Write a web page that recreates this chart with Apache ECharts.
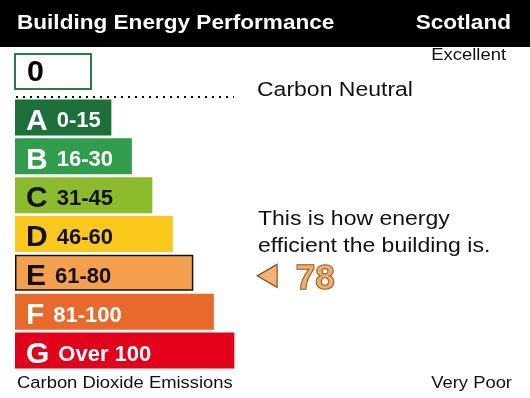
<!DOCTYPE html>
<html>
<head>
<meta charset="utf-8">
<script src="https://cdn.jsdelivr.net/npm/echarts@6/dist/echarts.min.js"></script>
<style>
  html, body { margin: 0; padding: 0; background: #fff; }
  #main { width: 530px; height: 398px; }
</style>
</head>
<body>
<div id="main"></div>
<script>
var bands = ["A", "B", "C", "D", "E", "F", "G"];
var ranges = ["0-15", "16-30", "31-45", "46-60", "61-80", "81-100", "Over 100"];
var upper = [15, 30, 45, 60, 80, 100, Infinity];
var barLen = [4.7, 5.7, 6.7, 7.7, 8.7, 9.7, 10.7];
var colors = ["#1b6f38", "#2f9d4a", "#8bbc2b", "#fcc81b", "#f4a04c", "#e9692a", "#e2001a"];
var textColors = ["#fff", "#fff", "#111", "#111", "#111", "#fff", "#fff"];
var rating = 78;

var chartDom = document.getElementById("main");
var myChart = echarts.init(chartDom);

var current = 0;
while (rating > upper[current]) current++;

var font = "'Liberation Sans', Arial, sans-serif";

// helper for the plain text notes; the reference lettering is a bit wider than Arial
function note(x, y, text, size, opts) {
  opts = opts || {};
  return {
    type: "text", x: x, y: y, scaleX: opts.sx || 1.15,
    style: {
      text: text, fill: opts.fill || "#111",
      font: (opts.bold ? "bold " : "") + size + "px " + font,
      textAlign: opts.align || "left", textVerticalAlign: "middle"
    }
  };
}

var option = {
  animation: false,
  grid: { left: 15, top: 98, width: 512.5, height: 272 },
  xAxis: { type: "value", min: 0, max: 25, show: false },
  yAxis: { type: "category", data: bands, inverse: true, show: false },
  graphic: [
    { type: "rect", shape: { x: 0, y: 0, width: 530, height: 47 }, style: { fill: "#000" } },
    note(17, 23, "Building Energy Performance", 21, { bold: true, fill: "#fff", sx: 1.075 }),
    note(511, 23, "Scotland", 21, { bold: true, fill: "#fff", sx: 1.075, align: "right" }),
    { type: "rect", shape: { x: 15, y: 54, width: 76, height: 35 }, style: { fill: "#fff", stroke: "#2d7a44", lineWidth: 2 } },
    note(27, 73, "0", 29, { bold: true, fill: "#000", sx: 1.05 }),
    { type: "line", shape: { x1: 16, y1: 97, x2: 234, y2: 97 }, style: { stroke: "#000", lineWidth: 2, lineDash: [2, 5] } },
    note(506, 56, "Excellent", 16, { align: "right" }),
    note(257, 90, "Carbon Neutral", 20),
    note(258, 219, "This is how energy", 20),
    note(258, 246, "efficient the building is.", 20),
    note(17, 384, "Carbon Dioxide Emissions", 16),
    note(512, 384, "Very Poor", 16, { align: "right" })
  ],
  series: [
    {
      type: "bar",
      barWidth: 36,
      data: barLen.map(function (v, i) {
        return {
          value: v,
          itemStyle: {
            color: colors[i],
            borderColor: i === current ? "#111" : colors[i],
            borderWidth: i === current ? 1.5 : 0
          },
          label: {
            show: true,
            position: "insideLeft",
            distance: 11,
            offset: [0, 4],
            formatter: "{l|" + bands[i] + "}{r|" + ranges[i] + "}",
            rich: {
              l: { fontSize: 30, fontWeight: "bold", color: textColors[i], fontFamily: font },
              r: { fontSize: 22, fontWeight: "bold", color: textColors[i], fontFamily: font, padding: [0, 0, 0, 9] }
            }
          }
        };
      })
    },
    {
      type: "scatter",
      clip: false,
      symbol: "triangle",
      symbolRotate: 90,
      symbolSize: [23, 20],
      symbolOffset: [0, 3],
      itemStyle: { color: "#f4a04c", borderColor: "#5a2e00", borderWidth: 1.2 },
      label: {
        show: true,
        position: "right",
        distance: 18,
        offset: [0, 3],
        formatter: String(rating),
        fontSize: 35,
        fontWeight: "bold",
        fontFamily: font,
        color: "#f29a45",
        textBorderColor: "#5a2e00",
        textBorderWidth: 1.5
      },
      data: [[12.3, bands[current]]]
    }
  ]
};
option && myChart.setOption(option);
</script>
</body>
</html>
